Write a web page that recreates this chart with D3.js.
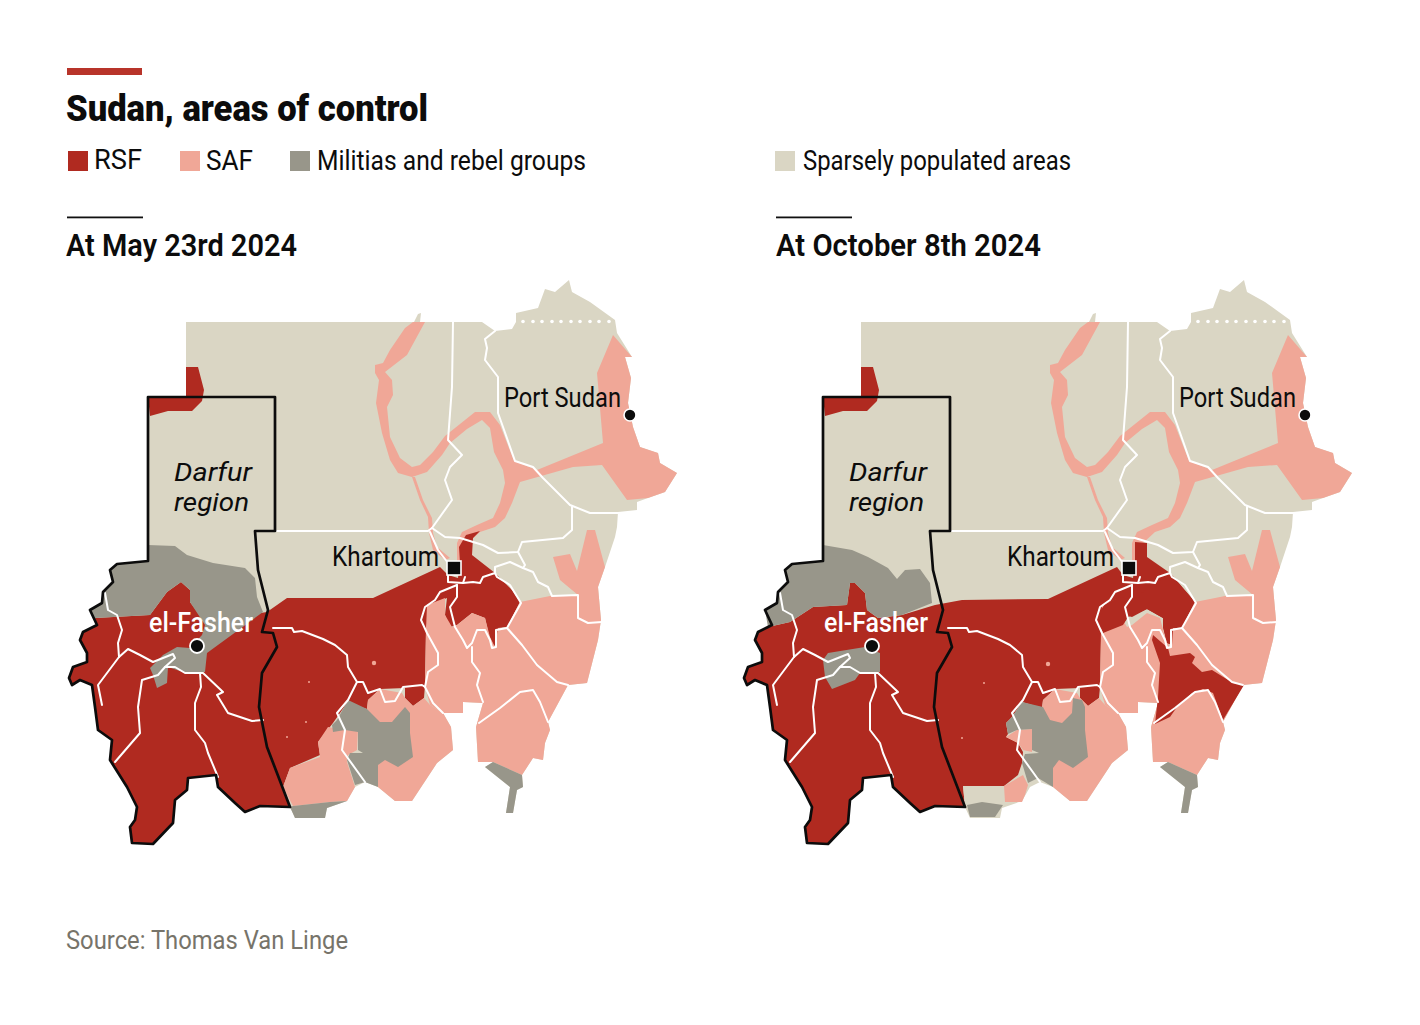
<!DOCTYPE html>
<html>
<head>
<meta charset="utf-8">
<title>Sudan, areas of control</title>
<script src="https://cdn.jsdelivr.net/npm/d3@7"></script>
<style>
  html, body { margin: 0; padding: 0; background: #fff; }
  text { font-family: Roboto, sans-serif; }
</style>
</head>
<body>
<div id="chart"></div>
<script>
// Texts
var title = "Sudan, areas of control";
var source = "Source: Thomas Van Linge";
var panelTitles = ["At May 23rd 2024", "At October 8th 2024"];
var legendNames = ["RSF", "SAF", "Militias and rebel groups", "Sparsely populated areas"];

// All outlines below are in map units
var darfurSouth = [[290,807],[260,806],[245,812],[235,803],[218,787],[216,775],[188,778],[187,790],[175,800],[173,823],[153,844],[132,843],[130,827],[135,820],[137,807],[127,787],[110,760],[112,740],[98,730],[95,707],[92,685],[80,680],[72,685],[69,678],[73,667],[87,662],[87,653],[80,640],[83,632],[97,625]];
var darfurNorthWest = [[97,625],[90,610],[102,603],[103,592],[113,582],[110,570],[117,564],[148,561]];
var darfurEast = [[148,397],[275,397],[275,531],[255,531],[258,570],[268,610],[262,632],[273,633],[277,647],[262,673],[259,707],[267,747],[290,807]];

var countryEast = [[186,322],[482,322],[495,331],[512,329],[516,322],[516,313],[538,308],[545,289],[555,292],[569,280],[572,292],[590,302],[615,320],[617,333],[632,357],[625,357],[631,378],[628,403],[633,427],[640,447],[658,453],[660,463],[677,473],[665,492],[648,498],[637,502],[637,510],[618,512],[617,527],[615,537],[605,567],[598,587],[601,620],[598,640],[587,683],[568,685],[548,722],[550,730],[545,743],[543,760],[533,758],[522,775],[523,787],[517,790],[513,813],[506,813],[510,787],[485,767],[493,762],[478,762],[476,727],[483,703],[463,702],[463,713],[443,713],[451,727],[453,750],[437,763],[412,801],[395,801],[378,787],[365,782],[355,787],[347,801],[327,808],[325,818],[295,818]];
var countryNorthWest = [[148,397],[186,396]];
var wisp = [[414,322],[418,314],[421,313],[420,322]];

// Shared areas
var rsfNorthWest = [[186,367],[198,367],[204,390],[202,401],[192,411],[168,411],[150,416],[148,397],[186,396]];
var safRiver = [[425,322],[407,355],[385,372],[392,380],[393,395],[387,407],[390,437],[400,458],[412,467],[420,465],[433,452],[445,436],[475,412],[490,412],[500,425],[514,461],[537,470],[603,443],[597,373],[613,335],[632,357],[625,357],[631,378],[628,403],[633,427],[640,447],[658,453],[660,463],[677,473],[665,492],[648,498],[627,500],[602,465],[573,467],[520,482],[512,503],[505,518],[495,527],[480,532],[466,545],[466,562],[457,562],[457,543],[462,532],[477,525],[493,518],[500,503],[505,483],[503,470],[494,452],[490,428],[482,420],[467,429],[450,443],[442,455],[427,472],[412,477],[398,473],[390,460],[382,433],[376,403],[379,380],[375,373],[375,365],[383,363],[390,350],[405,328],[413,322]];
var safNileThin = [[412,477],[415,477],[423,500],[432,518],[433,533],[437,547],[450,558],[445,560],[433,550],[429,533],[428,517],[420,500]];
var safEast = [[427,605],[445,598],[445,615],[452,627],[457,625],[472,613],[485,618],[490,637],[495,647],[498,628],[507,628],[520,602],[550,596],[578,595],[560,580],[553,557],[570,554],[577,571],[587,530],[595,530],[605,567],[598,587],[601,620],[598,640],[587,683],[568,685],[548,722],[550,730],[545,743],[543,760],[533,758],[522,775],[493,762],[478,762],[476,727],[483,703],[463,702],[463,713],[443,713],[430,705],[425,687],[426,630]];
var safNuba = [[367,709],[368,700],[380,689],[402,693],[405,698],[413,706],[424,698],[430,705],[443,713],[451,727],[453,750],[437,763],[412,801],[395,801],[378,787],[378,765],[370,740]];
var grayBlueNile = [[485,767],[493,762],[522,775],[523,787],[517,790],[513,813],[506,813],[510,787]];

// May areas
var rsfMayEdge = [[95,618],[150,615],[167,592],[181,582],[190,590],[190,602],[205,622],[267,612],[287,598],[373,598],[440,567],[448,575],[458,578],[460,563],[459,547],[466,535],[480,531],[473,538],[472,555],[495,573],[512,590],[520,602],[507,627],[498,628],[497,640],[494,647],[490,640],[485,618],[472,613],[457,625],[450,627],[445,615],[447,598],[430,605],[426,630],[425,685],[424,698],[413,706],[405,698],[405,688],[380,689],[368,700],[367,709],[347,703],[333,723],[318,742],[320,755],[290,768],[283,787]];
var grayNorthMay = [[148,545],[175,546],[187,555],[213,563],[245,568],[255,578],[257,597],[263,612],[207,653],[205,672],[183,672],[168,667],[167,683],[157,688],[153,675],[150,668],[163,655],[177,647],[190,648],[202,635],[205,625],[190,602],[190,590],[181,582],[167,592],[150,615],[95,618]];
var safKordofanMay = [[283,787],[290,768],[320,757],[318,742],[328,727],[345,730],[358,729],[357,750],[348,755],[347,762],[355,787],[347,801],[330,802],[293,806]];
var grayNubaMay = [[348,700],[337,720],[332,725],[333,732],[345,730],[358,732],[358,750],[363,753],[350,753],[347,760],[355,785],[365,782],[378,787],[378,765],[385,760],[398,767],[413,757],[410,733],[410,713],[405,707],[398,715],[392,722],[380,722],[370,712],[367,709]];
var graySouthMay = [[290,807],[295,818],[325,818],[327,808],[347,801],[330,802],[293,806]];

// October areas
var rsfOctEdge = [[93,627],[115,622],[138,607],[172,605],[175,583],[180,583],[190,593],[192,610],[203,618],[227,615],[260,605],[287,600],[373,599],[442,567],[448,575],[458,578],[460,563],[460,542],[472,543],[472,557],[495,573],[520,602],[507,628],[498,628],[497,645],[492,643],[488,627],[488,618],[472,609],[457,617],[453,616],[448,625],[428,633],[426,640],[425,687],[424,698],[413,706],[405,698],[405,688],[380,689],[368,700],[367,708],[347,702],[337,717],[331,723],[333,734],[331,737],[343,743],[348,752],[347,763],[343,775],[329,786],[288,786]];
var rsfWhiteNileOct = [[421,617],[428,633],[448,625],[453,617],[472,609],[488,618],[488,627],[492,643],[497,645],[498,628],[520,602],[495,573],[457,600],[445,597],[430,604]];
var rsfSennarOct = [[477,640],[478,635],[493,648],[495,656],[515,653],[520,657],[517,663],[527,672],[537,670],[558,683],[569,685],[548,720],[538,693],[528,689],[517,693],[502,707],[495,717],[480,724],[483,697],[485,663]];
var grayNorthOct = [[148,545],[177,550],[193,557],[213,568],[222,579],[230,570],[245,569],[255,583],[257,603],[227,615],[203,618],[192,610],[190,593],[180,583],[175,583],[172,605],[138,607],[115,622],[93,627]];
var grayFasherOct = [[148,660],[153,653],[190,647],[205,653],[205,672],[185,673],[180,680],[157,689],[150,677]];
var safSmallOct = [[331,737],[342,730],[357,729],[357,752],[348,750],[343,743]];
var graySmallOct = [[347,702],[337,717],[331,723],[333,734],[342,730],[357,729],[357,750],[364,753],[350,754],[347,763],[353,783],[363,778],[378,787],[378,768],[384,760],[398,768],[413,757],[410,730],[410,707],[407,700],[398,698],[397,713],[387,723],[375,720],[368,707]];
var safCornerOct = [[329,786],[348,775],[353,785],[350,795],[347,802],[330,802]];
var graySouthOct = [[292,805],[307,802],[328,805],[320,817],[295,817]];
var sandSouthOct = [[288,786],[329,786],[329,802],[342,802],[327,806],[307,802],[292,805],[290,807]];

// White state lines
var stateLines = [
  [[277,531],[428,531],[432,528],[445,537],[460,538],[483,545],[498,553],[518,552],[522,542],[563,538],[572,530],[572,507]],
  [[453,322],[452,387],[448,440],[462,455],[450,467],[445,480],[452,500],[432,528]],
  [[495,331],[485,339],[487,348],[485,360],[498,377],[498,413],[503,427],[515,461],[533,467],[543,478],[570,505],[590,513],[618,513]],
  [[430,532],[438,550],[448,563],[448,582],[463,583],[465,577]],
  [[457,585],[457,597],[450,607],[455,627],[463,640],[467,648],[472,643],[477,630],[485,630],[490,640],[492,648],[496,647],[496,630],[507,628],[521,603],[510,585],[497,577],[495,573],[483,577],[480,583],[473,582],[463,583]],
  [[495,573],[495,567],[510,562],[523,568],[533,572],[538,582],[548,587],[552,596],[578,595],[578,618],[588,623],[602,622]],
  [[518,552],[525,565],[523,568]],
  [[457,585],[440,592],[435,600],[425,607],[421,620],[427,633],[438,653],[438,665],[428,672],[425,687],[433,703],[443,713]],
  [[472,647],[472,662],[480,673],[477,685],[483,702]],
  [[507,628],[522,645],[537,665],[557,682],[568,685]],
  [[479,723],[500,708],[520,692],[533,690],[540,702],[548,722]],
  [[273,628],[292,628],[294,632],[302,631],[323,639],[335,645],[347,655],[348,667],[357,682],[363,682],[368,693],[380,689],[385,702],[395,701],[403,687],[422,685],[425,687]],
  [[357,682],[348,700],[337,713],[345,730],[342,750],[365,782]],
  [[105,593],[108,610],[117,615],[122,630],[118,643],[119,657],[98,685],[102,705]],
  [[119,657],[128,649],[140,655],[153,662],[173,654],[175,658],[165,667],[158,675],[142,680],[138,707],[140,733],[115,762]],
  [[165,667],[175,667],[185,673],[203,673],[223,692],[217,695],[228,713],[252,721],[263,720]],
  [[200,673],[201,687],[195,703],[195,730],[205,743],[208,753],[218,777]]
];

// Small SAF-held towns inside RSF land
var townsMay = [[374,663,2.2],[309,682,1],[306,722,1],[287,737,1]];
var townsOct = [[373,664,2.2],[309,683,1],[287,738,1]];

// Dotted border at the top of the Red Sea state
var dottedBorderX = [523,533,542,552,561,571,580,590,599,609];

var RSF = "#b02a20", SAF = "#f0a797", GRAY = "#98968a", SAND = "#dad6c4";

var panels = [
  { areas: [
      [SAF, safRiver], [SAF, safNileThin],
      [RSF, darfurSouth.concat(rsfMayEdge)],
      [SAF, safEast], [SAF, safKordofanMay], [SAF, safNuba],
      [RSF, rsfNorthWest],
      [GRAY, grayNorthMay.concat(darfurNorthWest.slice(1))],
      [GRAY, grayNubaMay], [GRAY, grayBlueNile], [GRAY, graySouthMay]
    ], towns: townsMay },
  { areas: [
      [SAF, safRiver], [SAF, safNileThin],
      [RSF, darfurSouth.concat(rsfOctEdge)],
      [SAF, safEast], [SAF, safNuba],
      [RSF, rsfWhiteNileOct], [RSF, rsfSennarOct], [RSF, rsfNorthWest],
      [SAND, sandSouthOct], [SAF, safCornerOct], [SAF, safSmallOct],
      [GRAY, grayNorthOct.concat(darfurNorthWest.slice(1))],
      [GRAY, grayFasherOct], [GRAY, graySmallOct], [GRAY, grayBlueNile], [GRAY, graySouthOct]
    ], towns: townsOct }
];

var width = 1420, height = 1025;
var svg = d3.select("#chart").append("svg")
  .attr("width", width).attr("height", height)
  .style("display", "block");

// fixed-width text, the reference font is narrower than Roboto
function label(parent, str, x, y, size, w, weight, color, italic) {
  return parent.append("text")
    .attr("x", x).attr("y", y)
    .attr("font-size", size)
    .attr("font-weight", weight || 400)
    .attr("font-style", italic ? "italic" : "normal")
    .attr("fill", color || "#0c0c0c")
    .attr("textLength", w)
    .attr("lengthAdjust", "spacingAndGlyphs")
    .text(str);
}

// Header
svg.append("rect").attr("x", 67).attr("y", 68).attr("width", 75).attr("height", 7).attr("fill", "#b8342a");
label(svg, title, 66, 121, 36, 362, 900);

var legendColors = [RSF, SAF, GRAY, SAND];
var legendSquareX = [68, 180, 290, 775];
var legendTextX = [94, 206, 317, 803];
var legendTextW = [48, 47, 269, 268];
legendNames.forEach(function(name, i) {
  svg.append("rect")
    .attr("x", legendSquareX[i]).attr("y", 151)
    .attr("width", 20).attr("height", 20)
    .attr("fill", legendColors[i]);
  label(svg, name, legendTextX[i], i === 0 ? 169 : 170, 27, legendTextW[i], 400);
});

// Panels
var panelX = [0, 675];
var headX = [67, 776];
var headW = [231, 265];

panels.forEach(function(panel, p) {
  svg.append("rect").attr("x", headX[p]).attr("y", 216.5).attr("width", 76).attr("height", 1.8).attr("fill", "#111");
  label(svg, panelTitles[p], headX[p] - (p ? 0 : 1), 256, 31, headW[p], 600);

  var x = d3.scaleLinear().domain([0, 700]).range([panelX[p], panelX[p] + 700]);
  var y = d3.scaleLinear().domain([0, 1025]).range([0, 1025]);
  var line = d3.line().x(function(d) { return x(d[0]); }).y(function(d) { return y(d[1]); });

  var g = svg.append("g").attr("class", "panel");

  // land
  var land = countryEast.concat(darfurSouth, darfurNorthWest, countryNorthWest);
  g.append("path").attr("d", line(land) + "Z").attr("fill", SAND);
  g.append("path").attr("d", line(wisp) + "Z").attr("fill", SAND);

  g.selectAll("path.area").data(panel.areas).enter().append("path")
    .attr("class", "area")
    .attr("d", function(d) { return line(d[1]) + "Z"; })
    .attr("fill", function(d) { return d[0]; });

  g.selectAll("circle.town").data(panel.towns).enter().append("circle")
    .attr("class", "town")
    .attr("cx", function(d) { return x(d[0]); })
    .attr("cy", function(d) { return y(d[1]); })
    .attr("r", function(d) { return d[2]; })
    .attr("fill", SAF);

  g.selectAll("path.state").data(stateLines).enter().append("path")
    .attr("class", "state")
    .attr("d", line)
    .attr("fill", "none")
    .attr("stroke", "#fff")
    .attr("stroke-width", 2)
    .attr("stroke-linejoin", "round")
    .attr("stroke-linecap", "round");

  g.selectAll("circle.dot").data(dottedBorderX).enter().append("circle")
    .attr("class", "dot")
    .attr("cx", function(d) { return x(d); })
    .attr("cy", y(321.5))
    .attr("r", 1.8)
    .attr("fill", "#fff");

  // Darfur outline
  var darfur = darfurEast.concat(darfurSouth.slice(1), darfurNorthWest.slice(1));
  g.append("path")
    .attr("d", line(darfur) + "Z")
    .attr("fill", "none")
    .attr("stroke", "#0c0c0c")
    .attr("stroke-width", 2.7)
    .attr("stroke-linejoin", "round");

  // Towns
  g.append("rect")
    .attr("x", x(447)).attr("y", y(561))
    .attr("width", 14).attr("height", 14)
    .attr("fill", "#0c0c0c")
    .attr("stroke", "#fff").attr("stroke-width", 1.6);
  g.append("circle").attr("cx", x(630)).attr("cy", y(415)).attr("r", 6)
    .attr("fill", "#0c0c0c").attr("stroke", "#fff").attr("stroke-width", 1.6);
  g.append("circle").attr("cx", x(197)).attr("cy", y(646)).attr("r", 7)
    .attr("fill", "#0c0c0c").attr("stroke", "#fff").attr("stroke-width", 1.8);

  label(g, "Port Sudan", x(504), y(407), 27, 117, 400);
  label(g, "Khartoum", x(332), y(566), 27, 107, 400);
  label(g, "el-Fasher", x(149), y(632), 27, 104, 500, "#fff");
  label(g, "Darfur", x(174), y(481), 26, 78, 400, "#0c0c0c", true);
  label(g, "region", x(174), y(511), 26, 75, 400, "#0c0c0c", true);
});

// Footer
label(svg, source, 66, 949, 26, 282, 400, "#77746a");
</script>
</body>
</html>
